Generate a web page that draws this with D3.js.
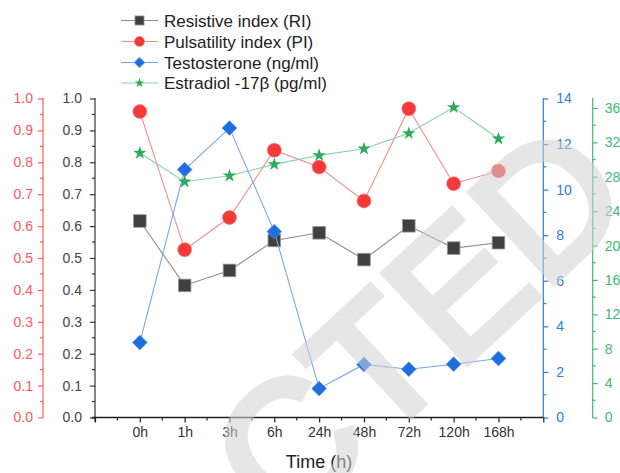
<!DOCTYPE html>
<html><head><meta charset="utf-8">
<script src="https://cdn.jsdelivr.net/npm/d3@7"></script>
<style>body{margin:0;background:#fff}svg{display:block;font-family:"Liberation Sans",Arial,sans-serif}</style>
</head><body>
<script>
const categories = ["0h","1h","3h","6h","24h","48h","72h","120h","168h"];
const ri = [0.616, 0.414, 0.461, 0.555, 0.579, 0.495, 0.601, 0.531, 0.548];
const pi = [0.959, 0.526, 0.627, 0.838, 0.785, 0.679, 0.968, 0.733, 0.773];
const testosterone = [3.29, 10.88, 12.7, 8.16, 1.27, 2.33, 2.12, 2.34, 2.59];
const estradiol = [30.76, 27.42, 28.12, 29.44, 30.49, 31.26, 33.05, 36.07, 32.42];
const leftTicks = [0,0.1,0.2,0.3,0.4,0.5,0.6,0.7,0.8,0.9,1.0];
const tTicks = [0,2,4,6,8,10,12,14];
const eTicks = [0,4,8,12,16,20,24,28,32,36];
const seriesNames = ["Resistive index (RI)","Pulsatility index (PI)","Testosterone (ng/ml)","Estradiol -17\u03B2 (pg/ml)"];

const W=620,H=473;
const svg=d3.select("body").append("svg").attr("width",W).attr("height",H);
const x=d3.scaleLinear().domain([0,10]).range([95,543.3]);
const yL=d3.scaleLinear().domain([0,1]).range([417.5,98.5]);
const yT=d3.scaleLinear().domain([0,14]).range([417.5,98.5]);
const yE=d3.scaleLinear().domain([0,37.1]).range([417.5,98.5]);

const C={ri:"#404040",riL:"#8c8c8c",pi:"#f23a3a",piL:"#f68c8c",t:"#1e6fdd",tL:"#74a8ef",e:"#2eaa5c",eL:"#8ad2a0",
  axR:"#ff5a5a",axB:"#2f7be2",axG:"#43b874",axK:"#333"};

function yAxis(scale,ticks,minor,xpos,side,color,fmt,pad){
  const g=svg.append("g").attr("transform",`translate(${xpos},0)`);
  const ax=(side==="left"?d3.axisLeft(scale):d3.axisRight(scale)).tickValues(ticks).tickSize(5).tickPadding(pad).tickFormat(fmt);
  g.call(ax);
  g.select(".domain").remove();
  g.selectAll(".tick line").attr("stroke",color).attr("stroke-width",1.2);
  g.selectAll(".tick text").attr("fill",color).style("font-size","14px").style("font-family","'Liberation Sans',Arial,sans-serif");
  const s=side==="left"?-1:1;
  g.selectAll(".mn").data(minor).enter().append("line").attr("x1",0).attr("x2",3*s)
    .attr("y1",d=>scale(d)).attr("y2",d=>scale(d)).attr("stroke",color).attr("stroke-width",1.2);
  return g;
}
const minorL=d3.range(0.05,1,0.1);
const gR=yAxis(yL,leftTicks,minorL,43,"left",C.axR,d3.format(".1f"),5);
gR.append("line").attr("x1",0).attr("x2",0).attr("y1",98).attr("y2",418).attr("stroke",C.axR).attr("stroke-width",1.2);
const gK=yAxis(yL,leftTicks,minorL,95,"left",C.axK,d3.format(".1f"),8);
gK.selectAll(".tick text").attr("fill","#444");
gK.append("line").attr("x1",0).attr("x2",0).attr("y1",98).attr("y2",422).attr("stroke",C.axK).attr("stroke-width",1.2);
const gB=yAxis(yT,tTicks,[1,3,5,7,9,11,13],543.3,"right",C.axB,d3.format("d"),8);
gB.append("line").attr("x1",0).attr("x2",0).attr("y1",98).attr("y2",418).attr("stroke",C.axB).attr("stroke-width",1.2);
const gG=yAxis(yE,eTicks,[2,6,10,14,18,22,26,30,34],592.7,"right",C.axG,d3.format("d"),7);
gG.append("line").attr("x1",0).attr("x2",0).attr("y1",98).attr("y2",418).attr("stroke",C.axG).attr("stroke-width",1.2);

const gX=svg.append("g").attr("transform","translate(0,417.5)");
gX.call(d3.axisBottom(x).tickValues(d3.range(0,11)).tickSize(5).tickPadding(5).tickFormat(d=>(d>=1&&d<=9)?categories[d-1]:""));
gX.select(".domain").remove();
gX.selectAll(".tick line").attr("stroke","#222").attr("stroke-width",1.2);
gX.selectAll(".tick text").attr("fill","#333").style("font-size","14px");
gX.selectAll(".mn").data(d3.range(0.5,10,1)).enter().append("line").attr("x1",d=>x(d)).attr("x2",d=>x(d)).attr("y1",0).attr("y2",3).attr("stroke","#222").attr("stroke-width",1.2);
gX.append("line").attr("x1",92).attr("x2",543.3).attr("y1",0).attr("y2",0).attr("stroke","#222").attr("stroke-width",1.3);

svg.append("text").attr("x",319).attr("y",468).attr("text-anchor","middle").attr("fill","#222").style("font-size","18px").text("Time (h)");

const xi=i=>x(i+1);
function drawSeries(vals,scale,lineColor,markFn){
  svg.append("path").datum(vals).attr("fill","none").attr("stroke",lineColor).attr("stroke-width",1.1)
    .attr("d",d3.line().x((d,i)=>xi(i)).y(d=>scale(d)));
  vals.forEach((v,i)=>markFn(svg,xi(i),scale(v),1));
}
const mSquare=(g,cx,cy,k)=>g.append("rect").attr("x",cx-6.3*k).attr("y",cy-6.3*k).attr("width",12.6*k).attr("height",12.6*k).attr("fill",C.ri).attr("stroke","#9a9a9a").attr("stroke-width",0.8);
const mCircle=(g,cx,cy,k)=>g.append("circle").attr("cx",cx).attr("cy",cy).attr("r",7*k).attr("fill",C.pi).attr("stroke","#f77").attr("stroke-width",0.6);
const mDiamond=(g,cx,cy,k)=>g.append("path").attr("d",d3.symbol(d3.symbolSquare,110*k*k)()).attr("transform",`translate(${cx},${cy}) rotate(45)`).attr("fill",C.t).attr("stroke","#5a96ea").attr("stroke-width",0.6);
const mStar=(g,cx,cy,k)=>g.append("path").attr("d",d3.symbol(d3.symbolStar,55*k*k)()).attr("transform",`translate(${cx},${cy})`).attr("fill",C.e);

drawSeries(ri,yL,C.riL,mSquare);
drawSeries(pi,yL,C.piL,mCircle);
drawSeries(testosterone,yT,C.tL,mDiamond);
drawSeries(estradiol,yE,C.eL,mStar);

const lg=[[C.riL,mSquare],[C.piL,mCircle],[C.tL,mDiamond],[C.eL,mStar]];
const ly=[20.5,41.5,62.5,83];
lg.forEach((l,i)=>{
  svg.append("line").attr("x1",121).attr("x2",158).attr("y1",ly[i]).attr("y2",ly[i]).attr("stroke",l[0]).attr("stroke-width",1.1);
  l[1](svg,139.5,ly[i],0.72);
  svg.append("text").attr("x",164).attr("y",ly[i]+6).attr("fill","#222").style("font-size","17px").text(seriesNames[i]);
});

// watermark
svg.append("text").attr("transform","translate(240,575) rotate(-43)").attr("text-anchor","middle")
  .style("font-size","178px").attr("fill","#d2d2d2").attr("stroke","#d2d2d2").attr("stroke-width",7)
  .attr("stroke-linejoin","miter").attr("opacity",0.55).text("RETRACTED");
</script>
</body></html>
